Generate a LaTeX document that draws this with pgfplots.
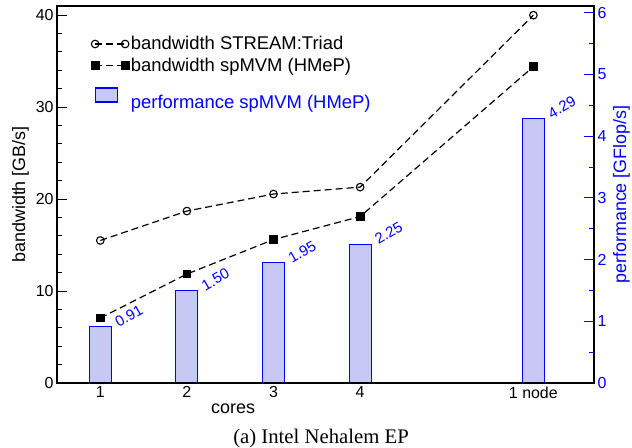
\documentclass[border=0pt]{standalone}
\usepackage{fontspec}
\setmainfont{Liberation Sans}
\newfontfamily\capfont{Liberation Serif}
\usepackage{pgfplots}
\pgfplotsset{compat=1.18}

\definecolor{barfill}{RGB}{200,200,245}

\pgfplotstableread{
x  bw_stream  bw_spmvm  perf
1  15.5       7.07      0.91
2  18.7       11.85     1.50
3  20.55      15.6      1.95
4  21.3       18.1      2.25
6  40.0       34.4      4.29
}\datatable

\pgfplotsset{
  /pgf/number format/assume math mode=true,
  common/.style={
    scale only axis, width=537bp, height=377bp,
    xmin=0.5, xmax=6.7,
    tick align=inside,
    major tick length=10bp, minor tick length=5bp,
    tick label style={font=\fontsize{16}{18}\selectfont},
    label style={font=\fontsize{18}{20}\selectfont},
  },
}

\begin{document}
\begin{tikzpicture}
\useasboundingbox (-57bp,-65bp) rectangle (575bp,383bp);

% right axis: performance bars
\begin{axis}[common,
  axis x line=none,
  axis y line*=right,
  y axis line style={black, line width=1.3pt},
  ymin=0, ymax=6.11,
  ytick distance=1, minor tick num=1,
  y tick style={blue, line width=1pt},
  yticklabel style={blue},
  ylabel={performance [GFlop/s]},
  ylabel style={blue},
  ybar, bar width=22bp,
  nodes near coords={\pgfmathprintnumber[fixed,fixed zerofill,precision=2]{\pgfplotspointmeta}},
  nodes near coords style={blue, font=\fontsize{15}{17}\selectfont,
    xshift=18bp, yshift=-3bp, rotate=30, anchor=south west, inner sep=1bp},
]
\addplot[draw=blue, line width=1.1pt, fill=barfill] table[x=x, y=perf] {\datatable};
\end{axis}

% left axis: bandwidth lines
\begin{axis}[common,
  axis line style={black, line width=1.3pt},
  ymin=0, ymax=41,
  ytick distance=10, minor y tick num=4,
  ytick pos=left, xtick pos=bottom,
  y tick style={black, line width=1pt},
  xtick={1,2,3,4,6}, xticklabels={1,2,3,4,1 node},
  x tick style={draw=none},
  ylabel={bandwidth [GB/s]},
  xlabel={cores},
  xlabel style={at={(rel axis cs:0.328,0)}, anchor=north, yshift=-17bp},
  legend cell align=left,
  legend style={draw=none, fill=none, at={(rel axis cs:0.058,0.93)}, anchor=north west,
    font=\fontsize{18.5}{20}\selectfont, row sep=3bp},
  legend image code/.code={\draw[#1] plot coordinates {(0bp,0bp) (30bp,0bp)};},
]
\addplot[black, line width=1.2pt, dash pattern=on 7bp off 4bp,
  mark=o, mark size=3.8bp, mark options={solid, fill=white, line width=1.1pt}]
  table[x=x, y=bw_stream] {\datatable};
\addlegendentry{bandwidth STREAM:Triad}
\addplot[black, line width=1.2pt, dash pattern=on 7bp off 4bp,
  mark=square*, mark size=3.8bp, mark options={solid}]
  table[x=x, y=bw_spmvm] {\datatable};
\addlegendentry{bandwidth spMVM (HMeP)}
\addlegendimage{legend image code/.code={\draw[draw=blue, line width=1.1pt, fill=barfill] (0bp,-7bp) rectangle (22bp,7bp);}}
\addlegendentry{\rule{0pt}{28bp}\textcolor{blue}{performance spMVM (HMeP)}}
\end{axis}

\node[font=\capfont\fontsize{20.8}{23}\selectfont, anchor=base] at (264bp,-60bp) {(a) Intel Nehalem EP};
\end{tikzpicture}
\end{document}
